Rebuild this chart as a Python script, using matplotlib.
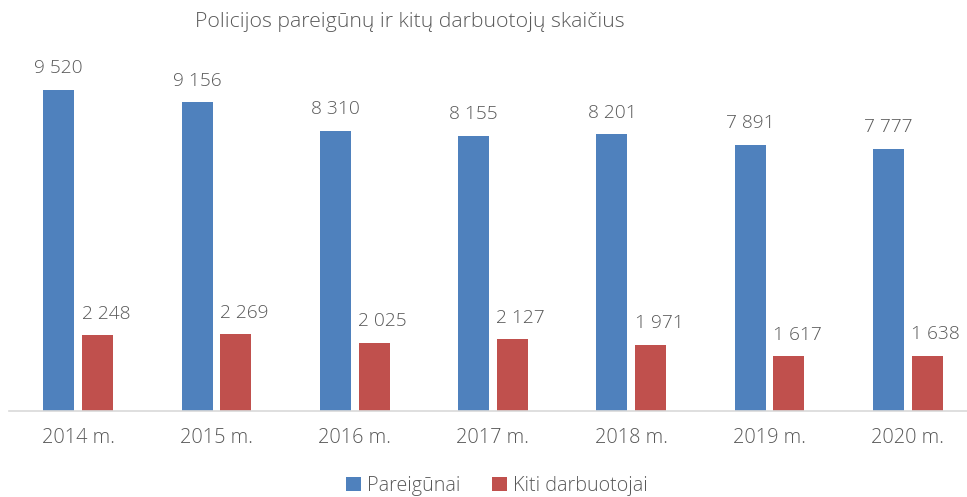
import matplotlib.pyplot as plt
import numpy as np

# data
years = ['2014 m.', '2015 m.', '2016 m.', '2017 m.', '2018 m.', '2019 m.', '2020 m.']
pareigunai = [9520, 9156, 8310, 8155, 8201, 7891, 7777]
kiti = [2248, 2269, 2025, 2127, 1971, 1617, 1638]

BLUE = '#4F81BD'
RED = '#C0504D'
TXT = '#595959'

plt.rcParams['font.family'] = ['Open Sans', 'DejaVu Sans']
plt.rcParams['font.weight'] = 'light'


def fmt(v):
  return '{:,}'.format(v).replace(',', ' ')


fig = plt.figure(figsize=(9.67, 4.97), dpi=100)
# category width ~138 px, axis runs a little past the right edge
ax = fig.add_axes([9 / 967, 1 - 411 / 497, 968 / 967, 338 / 497])

x = np.arange(len(years))
w = 0.224
off = 0.14
b1 = ax.bar(x - off, pareigunai, w, color=BLUE, label='Pareigūnai')
b2 = ax.bar(x + off, kiti, w, color=RED, label='Kiti darbuotojai')

# red labels sit a bit to the right so they clear the blue bars
for bars, vals, dx in ((b1, pareigunai, 0), (b2, kiti, 6)):
  for b, v in zip(bars, vals):
    ax.annotate(fmt(v), (b.get_x() + b.get_width() / 2, v), xytext=(dx, 9),
                textcoords='offset points', ha='center', va='bottom',
                fontsize=13.8, color=TXT)

ax.set_xlim(-0.5, len(years) - 0.5)
ax.set_ylim(0, 10020)
ax.set_xticks(x)
ax.set_xticklabels(years, fontsize=14.3, color=TXT)
ax.tick_params(axis='x', length=0, pad=12)
ax.set_yticks([])
for s in ('top', 'right', 'left'):
  ax.spines[s].set_visible(False)
ax.spines['bottom'].set_color('#d9d9d9')
ax.spines['bottom'].set_linewidth(1.2)

fig.text(410 / 967, 1 - 22 / 497, 'Policijos pareigūnų ir kitų darbuotojų skaičius',
         ha='center', va='center', fontsize=15.3, color=TXT)

leg = fig.legend(handles=[b1, b2], loc='center', bbox_to_anchor=(497 / 967, 1 - 486 / 497),
                 ncol=2, frameon=False, fontsize=14.2, handlelength=0.75, handleheight=0.75,
                 handletextpad=0.3, columnspacing=1.6)
for t in leg.get_texts():
  t.set_color(TXT)

fig.savefig('out.png', dpi=100)
